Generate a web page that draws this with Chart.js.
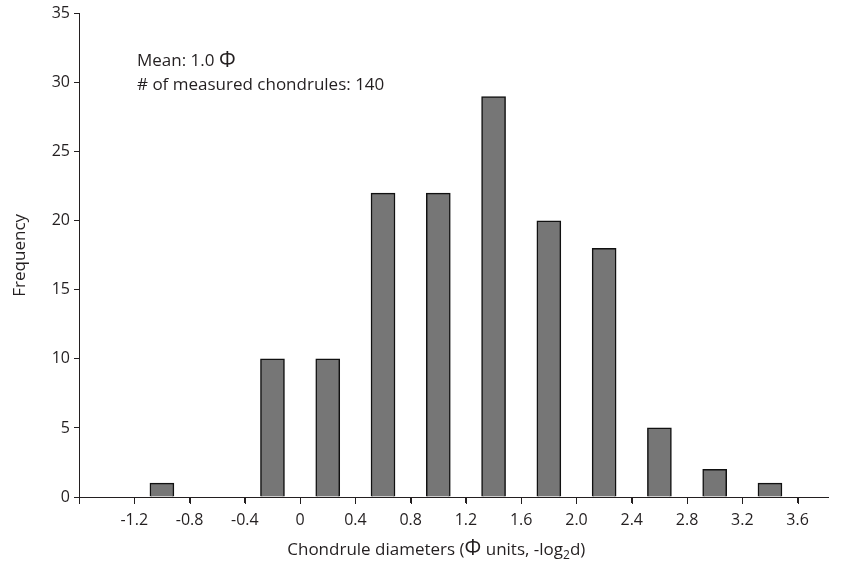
<!DOCTYPE html>
<html>
<head>
<meta charset="utf-8">
<script src="https://cdn.jsdelivr.net/npm/chart.js@4/dist/chart.umd.min.js"></script>
<style>
  html, body { margin: 0; padding: 0; background: #fff; }
  #wrap { width: 844px; height: 565px; }
</style>
</head>
<body>
<div id="wrap"><canvas id="histChart" width="844" height="565"></canvas></div>
<script>
// bin centres (phi units) and counts
const binCenters = [-1.0, -0.6, -0.2, 0.2, 0.6, 1.0, 1.4, 1.8, 2.2, 2.6, 3.0, 3.4];
const frequency = [1, 0, 10, 10, 22, 22, 29, 20, 18, 5, 2, 1];
// x tick labels, one per boundary after -1.6 (the first tick has no label)
const xTickLabels = ['-1.2', '-0.8', '-0.4', '0', '0.4', '0.8', '1.2', '1.6', '2.0', '2.4', '2.8', '3.2', '3.6'];
const yTicks = [0, 5, 10, 15, 20, 25, 30, 35];

const ink = '#231f20';
const fontFam = "'Open Sans', 'Noto Sans', sans-serif";

// x tick marks at every bin boundary, taken from the x scale's ticks
const tickPlugin = {
    id: 'tickPlugin',
    afterDraw(chart) {
        const ctx = chart.ctx;
        const xs = chart.scales.x;
        ctx.save();
        ctx.strokeStyle = ink;
        ctx.lineWidth = 1;
        ctx.beginPath();
        xs.ticks.forEach(t => {
            const px = Math.round(xs.getPixelForValue(t.value)) + 0.5;
            ctx.moveTo(px, xs.top);
            ctx.lineTo(px, xs.top + 7);
        });
        ctx.stroke();
        ctx.restore();
    }
};

// draws the note in the top left and the x axis title (it needs a subscript)
const textPlugin = {
    id: 'textPlugin',
    afterDraw(chart) {
        const ctx = chart.ctx;
        const xs = chart.scales.x;
        ctx.save();
        ctx.fillStyle = ink;
        ctx.textBaseline = 'alphabetic';
        ctx.textAlign = 'left';

        // note
        let x0 = chart.chartArea.left + 58;
        ctx.font = '17px ' + fontFam;
        ctx.fillText('Mean: 1.0 ', x0, 66);
        let w = ctx.measureText('Mean: 1.0 ').width;
        ctx.font = '21px ' + fontFam;
        ctx.fillText('Φ', x0 + w, 67);
        ctx.font = '17px ' + fontFam;
        ctx.fillText('# of measured chondrules: 140', x0, 90);

        // x axis title, centred on the labelled range
        const parts = [
            {t: 'Chondrule diameters (', f: '17px ' + fontFam, dy: 0},
            {t: 'Φ', f: '21px ' + fontFam, dy: 0},
            {t: ' units, -log', f: '17px ' + fontFam, dy: 0},
            {t: '2', f: '12px ' + fontFam, dy: 4},
            {t: 'd)', f: '17px ' + fontFam, dy: 0}
        ];
        let total = 0;
        parts.forEach(p => { ctx.font = p.f; p.w = ctx.measureText(p.t).width; total += p.w; });
        const cx = (xs.getPixelForValue(-1.6) + xs.getPixelForValue(3.6)) / 2 - 2;
        let px = cx - total / 2;
        const base = 555;
        parts.forEach(p => {
            ctx.font = p.f;
            ctx.fillText(p.t, px, base + p.dy);
            px += p.w;
        });
        ctx.restore();
    }
};

const ctx = document.getElementById('histChart').getContext('2d');
const chart = new Chart(ctx, {
    type: 'bar',
    data: {
        datasets: [{
            data: binCenters.map((c, i) => ({x: c, y: frequency[i]})),
            backgroundColor: '#767676',
            borderColor: '#111111',
            borderWidth: 1.5,
            barThickness: 24
        }]
    },
    options: {
        responsive: false,
        animation: false,
        layout: {
            padding: {top: 9, right: 16, left: 10, bottom: 0}
        },
        plugins: {
            legend: {display: false},
            tooltip: {enabled: false}
        },
        scales: {
            x: {
                type: 'linear',
                min: -1.6,
                max: 3.82,
                offset: false,
                afterFit: (s) => { s.height = 68; },
                ticks: {
                    stepSize: 0.4,
                    includeBounds: false,
                    autoSkip: false,
                    maxRotation: 0,
                    padding: 8,
                    color: ink,
                    font: {family: fontFam, size: 16},
                    callback: function (v) {
                        const idx = Math.round((v + 1.6) / 0.4);
                        return idx === 0 ? '' : (xTickLabels[idx - 1] || '');
                    }
                },
                grid: {
                    offset: false,
                    drawOnChartArea: false,
                    drawTicks: true,
                    tickLength: 6,
                    color: ink,
                    lineWidth: 1
                },
                border: {color: ink, width: 1}
            },
            y: {
                min: 0,
                max: 35,
                afterFit: (s) => { s.width = 69; },
                afterBuildTicks: (s) => { s.ticks = yTicks.map(v => ({value: v})); },
                ticks: {
                    padding: 4,
                    color: ink,
                    font: {family: fontFam, size: 16}
                },
                grid: {
                    drawOnChartArea: false,
                    drawTicks: true,
                    tickLength: 5,
                    color: ink,
                    lineWidth: 1
                },
                border: {color: ink, width: 1},
                title: {
                    display: true,
                    text: 'Frequency',
                    color: ink,
                    padding: {top: 0, bottom: 6},
                    font: {family: fontFam, size: 17}
                }
            }
        }
    },
    plugins: [tickPlugin, textPlugin]
});
</script>
</body>
</html>
